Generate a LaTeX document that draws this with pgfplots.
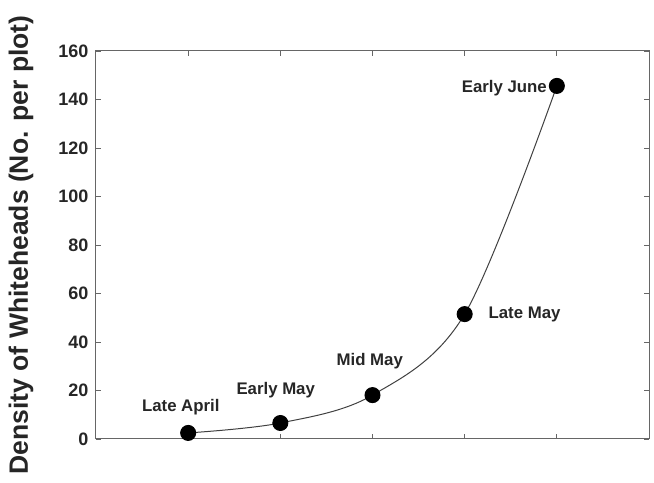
\documentclass[border=0pt]{standalone}
\usepackage{fontspec}
\setmainfont{Liberation Sans}
\usepackage{pgfplots}
\pgfplotsset{compat=1.18}
\begin{document}
\begin{tikzpicture}
\begin{axis}[
  scale only axis,
  width=553pt, height=388pt,
  xmin=0, xmax=6, ymin=0, ymax=160,
  xtick={1,2,3,4,5}, xticklabels={},
  ytick={0,20,...,160},
  tick align=inside,
  major tick length=5pt,
  axis line style={draw=black!60, line width=1pt},
  every tick/.style={draw=black!60, line width=0.8pt},
  /pgf/number format/assume math mode=true,
  ticklabel style={font=\bfseries\fontsize{18}{18}\selectfont, text=black!85},
  yticklabel style={xshift=-4pt},
  ylabel={Density of Whiteheads (No. per plot)},
  ylabel style={at={([xshift=-75pt]axis description cs:0,0.5)}, anchor=center, font=\bfseries\fontsize{26.5}{26.5}\selectfont, text=black!85},
  clip=false,
]
\addplot[black!75, line width=1pt, smooth, tension=0.55, mark=*, mark size=7.5pt,
  mark options={fill=black, draw=black}]
  coordinates {(1,2.5) (2,6.6) (3,18.1) (4,51.5) (5,145.6)};
\coordinate (bl) at (rel axis cs:0,0);
\coordinate (tr) at (rel axis cs:1,1);
\begin{scope}[every node/.style={font=\bfseries\fontsize{16.8}{16.8}\selectfont, text=black!85, anchor=center}]
\node at (axis cs:0.92,13.2) {Late April};
\node at (axis cs:1.95,20.2) {Early May};
\node at (axis cs:2.97,32.2) {Mid May};
\node at (axis cs:4.65,51.5) {Late May};
\node at (axis cs:4.43,144.7) {Early June};
\end{scope}
\end{axis}
\pgfresetboundingbox
\path ([shift={(-96pt,-44pt)}]bl) rectangle ([shift={(5pt,51pt)}]tr);
\end{tikzpicture}
\end{document}
